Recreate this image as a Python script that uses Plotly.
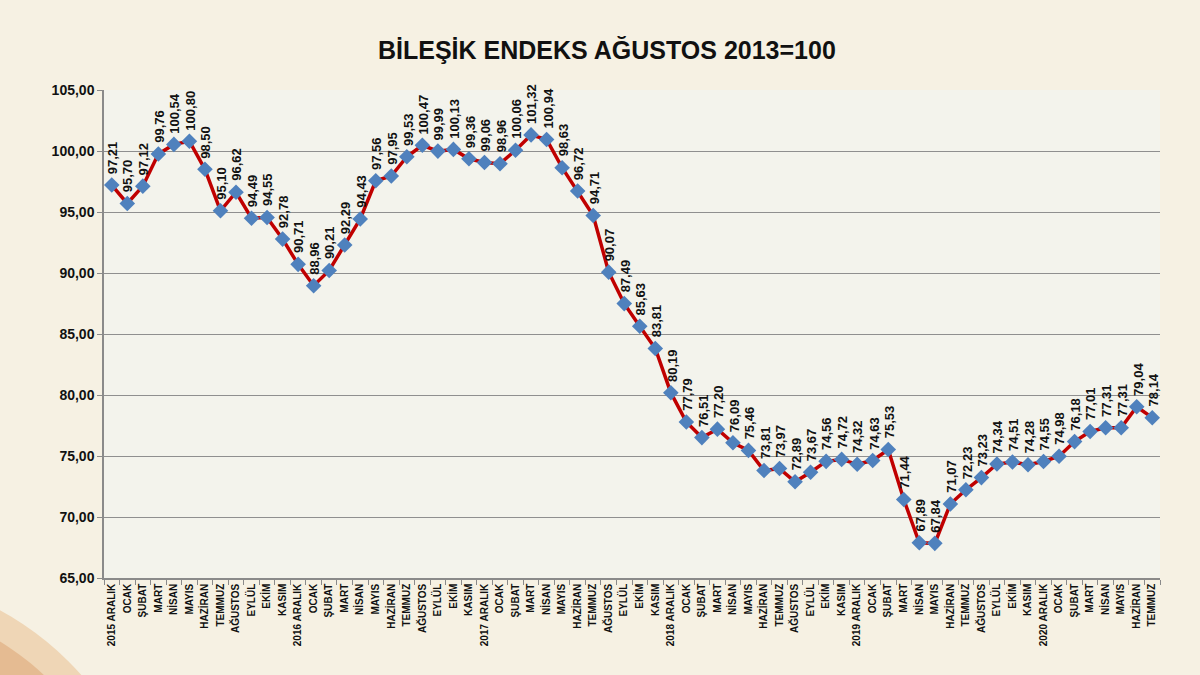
import plotly.graph_objects as go

labels = ["2015 ARALIK", "OCAK", "ŞUBAT", "MART", "NİSAN", "MAYIS", "HAZİRAN", "TEMMUZ", "AĞUSTOS", "EYLÜL", "EKİM", "KASIM",
          "2016 ARALIK", "OCAK", "ŞUBAT", "MART", "NİSAN", "MAYIS", "HAZİRAN", "TEMMUZ", "AĞUSTOS", "EYLÜL", "EKİM", "KASIM",
          "2017 ARALIK", "OCAK", "ŞUBAT", "MART", "NİSAN", "MAYIS", "HAZİRAN", "TEMMUZ", "AĞUSTOS", "EYLÜL", "EKİM", "KASIM",
          "2018 ARALIK", "OCAK", "ŞUBAT", "MART", "NİSAN", "MAYIS", "HAZİRAN", "TEMMUZ", "AĞUSTOS", "EYLÜL", "EKİM", "KASIM",
          "2019 ARALIK", "OCAK", "ŞUBAT", "MART", "NİSAN", "MAYIS", "HAZİRAN", "TEMMUZ", "AĞUSTOS", "EYLÜL", "EKİM", "KASIM",
          "2020 ARALIK", "OCAK", "ŞUBAT", "MART", "NİSAN", "MAYIS", "HAZİRAN", "TEMMUZ"]

values = [97.21, 95.70, 97.12, 99.76, 100.54, 100.80, 98.50, 95.10, 96.62, 94.49, 94.55, 92.78,
          90.71, 88.96, 90.21, 92.29, 94.43, 97.56, 97.95, 99.53, 100.47, 99.99, 100.13, 99.36,
          99.06, 98.96, 100.06, 101.32, 100.94, 98.63, 96.72, 94.71, 90.07, 87.49, 85.63, 83.81,
          80.19, 77.79, 76.51, 77.20, 76.09, 75.46, 73.81, 73.97, 72.89, 73.67, 74.56, 74.72,
          74.32, 74.63, 75.53, 71.44, 67.89, 67.84, 71.07, 72.23, 73.23, 74.34, 74.51, 74.28,
          74.55, 74.98, 76.18, 77.01, 77.31, 77.31, 79.04, 78.14]

title_text = "BİLEŞİK ENDEKS AĞUSTOS 2013=100"

FONT = "Liberation Sans, Arial, sans-serif"
x = list(range(len(values)))

fig = go.Figure()
fig.add_trace(go.Scatter(
    x=x, y=values, mode="lines+markers",
    line=dict(color="#c00000", width=3.5),
    marker=dict(symbol="diamond", size=12, color="#4f81bd", line=dict(width=0)),
    showlegend=False, hoverinfo="skip",
))

annotations = []
for xi, v in zip(x, values):
    annotations.append(dict(
        x=xi, y=v, xref="x", yref="y",
        text="<b>" + f"{v:.2f}".replace(".", ",") + "</b>",
        textangle=-90, showarrow=False,
        xanchor="center", yanchor="bottom", yshift=9, xshift=1,
        font=dict(family=FONT, size=13, color="#111111"),
    ))

annotations.append(dict(
    x=(607 - 104) / 1056.0, y=1.0 + (90 - 50) / 488.0, xref="paper", yref="paper",
    xanchor="center", yanchor="middle",
    text=f"<b>{title_text}</b>", showarrow=False,
    font=dict(family=FONT, size=25, color="#111111"),
))

# decorative peach swoosh in the lower-left corner (pixel -> paper conversion)
def px_x(p):
    return (p - 104) / 1056.0

def px_y(p):
    return (578 - p) / 488.0

cx, cy = -140, 870
shapes = [
    dict(type="circle", xref="paper", yref="paper", layer="below",
         x0=px_x(cx - 295), x1=px_x(cx + 295), y0=px_y(cy + 295), y1=px_y(cy - 295),
         fillcolor="#efd6b6", line=dict(width=0)),
    dict(type="circle", xref="paper", yref="paper", layer="below",
         x0=px_x(cx - 268), x1=px_x(cx + 268), y0=px_y(cy + 268), y1=px_y(cy - 268),
         fillcolor="#e5bb92", line=dict(width=0)),
]

fig.update_layout(
    width=1200, height=675,
    margin=dict(l=104, r=40, t=90, b=97),
    paper_bgcolor="#f6f1e3",
    plot_bgcolor="#f3f3ec",
    separators=",.",
    annotations=annotations,
    shapes=shapes,
    font=dict(family=FONT, color="#111111"),
)

fig.update_xaxes(
    range=[-0.5, len(values) - 0.5],
    tickmode="array", tickvals=x, ticktext=[f"<b>{l}</b>" for l in labels],
    tickangle=-90, ticks="",
    tickfont=dict(family=FONT, size=10, color="#111111"),
    showgrid=False, zeroline=False,
    showline=True, linecolor="#8a8a8a", linewidth=1.5,
    minor=dict(tickmode="linear", tick0=-0.5, dtick=1, ticks="outside", ticklen=5,
               tickcolor="#8a8a8a", showgrid=False),
)

fig.update_yaxes(
    range=[65, 105], dtick=5, tick0=65,
    tickformat=".2f", tickprefix="<b>", ticksuffix="</b>",
    ticks="outside", ticklen=5, tickcolor="#8a8a8a",
    tickfont=dict(family=FONT, size=14, color="#111111"),
    showgrid=True, gridcolor="#8f8f8f", gridwidth=1.2,
    zeroline=False,
    showline=True, linecolor="#8a8a8a", linewidth=1.5,
)

fig.write_html("out.html", config={"displayModeBar": False},
               post_script="document.body.style.margin='0';document.body.style.background='#f6f1e3';")
